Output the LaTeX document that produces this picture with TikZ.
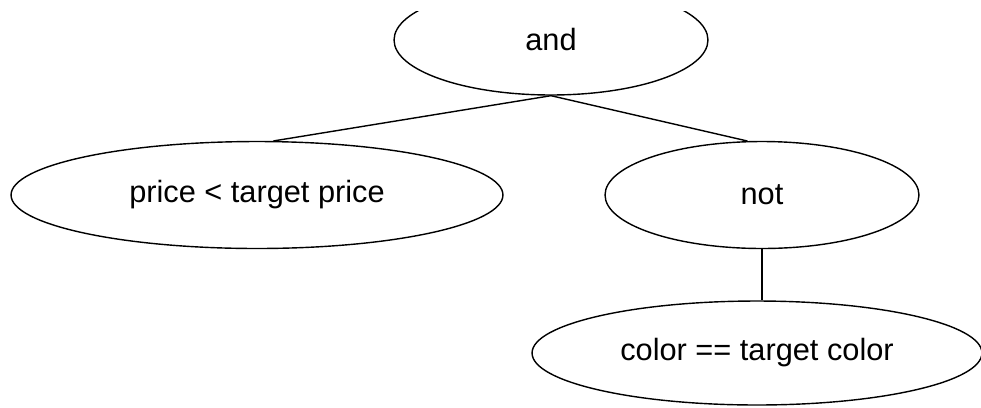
\documentclass[tikz,border=0pt]{standalone}
\usepackage{fontspec}
\setmainfont{Liberation Sans}
\usetikzlibrary{shapes.geometric}
\begin{document}
\begin{tikzpicture}[x=0.02cm, y=-0.02cm, line width=0.8pt,
  term/.style={draw, ellipse, inner sep=0pt, font=\fontsize{17.5}{20}\selectfont}]
  \useasboundingbox (0,0) rectangle (981,407);
  \clip (0,11) rectangle (981,407);
  \node[term, minimum width=6.28cm, minimum height=2.2cm] (and) at (551,40) {and};
  \node[term, minimum width=9.84cm, minimum height=2.14cm] (price) at (257,195) {price < target price};
  \node[term, minimum width=6.28cm, minimum height=2.14cm] (not) at (762,195) {not};
  \node[term, minimum width=9.0cm, minimum height=2.08cm] (color) at (757,353) {color == target color};
  \draw (and.south) -- (price.73);
  \draw (and.south) -- (not.105);
  \draw (not.south) -- (not.south |- color.north);
\end{tikzpicture}
\end{document}
